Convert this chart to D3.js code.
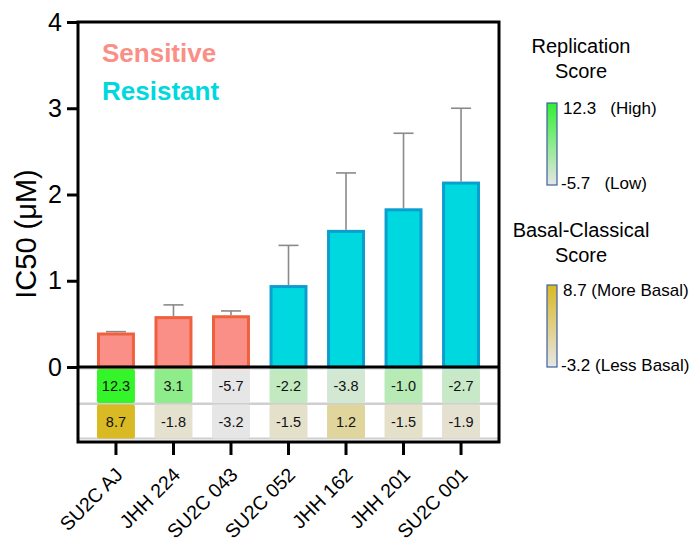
<!DOCTYPE html>
<html>
<head>
<meta charset="utf-8">
<script src="https://cdn.jsdelivr.net/npm/d3@7"></script>
<style>
  body { margin: 0; background: #fff; }
  svg { font-family: "Liberation Sans", Arial, sans-serif; }
</style>
</head>
<body>
<div id="chart"></div>
<script>
const lines = ['SU2C AJ', 'JHH 224', 'SU2C 043', 'SU2C 052', 'JHH 162', 'JHH 201', 'SU2C 001'];
const groupOf = ['Sensitive', 'Sensitive', 'Sensitive', 'Resistant', 'Resistant', 'Resistant', 'Resistant'];
const ic50 = [0.40, 0.59, 0.60, 0.95, 1.59, 1.84, 2.15];
const ic50Upper = [0.41, 0.72, 0.65, 1.41, 2.25, 2.71, 3.00];
const replicationScore = [12.3, 3.1, -5.7, -2.2, -3.8, -1.0, -2.7];
const basalScore = [8.7, -1.8, -3.2, -1.5, 1.2, -1.5, -1.9];
const yTicks = [0, 1, 2, 3, 4];

const W = 696, H = 542;
const plotLeft = 78, plotRight = 499, plotTop = 22, plotBottom = 442;

const svg = d3.select('#chart').append('svg')
  .attr('width', W).attr('height', H);

const x = d3.scaleBand().domain(lines).range([plotLeft, plotRight]).paddingInner(0.34).paddingOuter(0.33);
const y = d3.scaleLinear().domain([0, 4]).range([367, plotTop]);

const fillColor = { Sensitive: '#f98f86', Resistant: '#00d8df' };
const strokeColor = { Sensitive: '#f0603f', Resistant: '#0a9fcf' };

const repColor = d3.scaleLinear().domain([-5.7, 12.3]).range(['#e6e6e6', '#33f52a']);
const basColor = d3.scaleLinear().domain([-3.2, 8.7]).range(['#e6e6e6', '#d9b924']);

const rows = [
  { values: replicationScore, color: repColor },
  { values: basalScore, color: basColor }
];
const rowH = 35.5;
const rowTop = y(0) + 1.5;

// heatmap background separators
svg.append('rect')
  .attr('x', plotLeft + 1).attr('y', rowTop)
  .attr('width', plotRight - plotLeft - 2).attr('height', rowH * 2)
  .attr('fill', '#cfcfcf');
svg.append('rect')
  .attr('x', plotLeft + 1).attr('y', rowTop + 1)
  .attr('width', plotRight - plotLeft - 2).attr('height', rowH - 2.5)
  .attr('fill', '#fff');
svg.append('rect')
  .attr('x', plotLeft + 1).attr('y', rowTop + rowH + 1)
  .attr('width', plotRight - plotLeft - 2).attr('height', rowH - 3)
  .attr('fill', '#fff');

rows.forEach((row, r) => {
  const g = svg.append('g');
  g.selectAll('rect')
    .data(row.values)
    .enter()
    .append('rect')
    .attr('x', (d, i) => x(lines[i]))
    .attr('y', rowTop + r * rowH + 0.5)
    .attr('width', x.bandwidth())
    .attr('height', rowH - 1.5)
    .attr('rx', 2)
    .attr('fill', (d) => row.color(d));
  g.selectAll('text')
    .data(row.values)
    .enter()
    .append('text')
    .attr('x', (d, i) => x(lines[i]) + x.bandwidth() / 2)
    .attr('y', rowTop + r * rowH + rowH / 2)
    .attr('dy', '0.36em')
    .attr('text-anchor', 'middle')
    .style('font-size', '14.5px')
    .attr('fill', '#111')
    .text((d) => d.toFixed(1));
});

// error bars
const err = svg.append('g').attr('stroke', '#8a8a8a').attr('stroke-width', 1.6);
err.selectAll('line.v')
  .data(ic50)
  .enter()
  .append('line')
  .attr('x1', (d, i) => x(lines[i]) + x.bandwidth() / 2)
  .attr('x2', (d, i) => x(lines[i]) + x.bandwidth() / 2)
  .attr('y1', (d) => y(d))
  .attr('y2', (d, i) => y(ic50Upper[i]));
err.selectAll('line.c')
  .data(ic50Upper)
  .enter()
  .append('line')
  .attr('x1', (d, i) => x(lines[i]) + x.bandwidth() / 2 - 10)
  .attr('x2', (d, i) => x(lines[i]) + x.bandwidth() / 2 + 10)
  .attr('y1', (d) => y(d))
  .attr('y2', (d) => y(d));

// bars
svg.append('g')
  .selectAll('rect')
  .data(ic50)
  .enter()
  .append('rect')
  .attr('x', (d, i) => x(lines[i]) + 1.5)
  .attr('y', (d) => y(d) + 1.5)
  .attr('width', x.bandwidth() - 3)
  .attr('height', (d) => y(0) - y(d) - 1.5)
  .attr('fill', (d, i) => fillColor[groupOf[i]])
  .attr('stroke', (d, i) => strokeColor[groupOf[i]])
  .attr('stroke-width', 3);

// frame
const frame = svg.append('g').attr('stroke', '#000').attr('stroke-width', 3).attr('fill', 'none');
frame.append('rect')
  .attr('x', plotLeft).attr('y', plotTop)
  .attr('width', plotRight - plotLeft).attr('height', plotBottom - plotTop);
frame.append('line')
  .attr('x1', plotLeft).attr('x2', plotRight)
  .attr('y1', y(0)).attr('y2', y(0));

// y axis
const yAxis = svg.append('g')
  .attr('transform', `translate(${plotLeft},0)`)
  .call(d3.axisLeft(y).tickValues(yTicks).tickSize(11).tickPadding(5).tickFormat(d3.format('d')));
yAxis.select('.domain').remove();
yAxis.selectAll('line').attr('stroke', '#000').attr('stroke-width', 3);
yAxis.selectAll('text').style('font-size', '25px').attr('fill', '#000').attr('font-family', '"Liberation Sans", Arial, sans-serif');

// x axis
const xAxis = svg.append('g')
  .attr('transform', `translate(0,${plotBottom})`)
  .call(d3.axisBottom(x).tickSize(13).tickPadding(4));
xAxis.select('.domain').remove();
xAxis.selectAll('line').attr('stroke', '#000').attr('stroke-width', 3);
xAxis.selectAll('text')
  .style('font-size', '19.5px')
  .attr('fill', '#000')
  .attr('font-family', '"Liberation Sans", Arial, sans-serif')
  .style('text-anchor', 'end')
  .attr('x', 0).attr('y', 0).attr('dx', 0).attr('dy', 0)
  .attr('transform', 'translate(8,34) rotate(-45)');

// y title
svg.append('text')
  .attr('transform', `translate(36,${(plotTop + plotBottom) / 2 + 2}) rotate(-90)`)
  .attr('text-anchor', 'middle')
  .style('font-size', '29px')
  .text('IC50 (\u03bcM)');

// group legend
svg.append('text')
  .attr('x', 102).attr('y', 62)
  .style('font-size', '26px').style('font-weight', 'bold')
  .attr('fill', '#f98f86')
  .text('Sensitive');
svg.append('text')
  .attr('x', 102).attr('y', 100)
  .style('font-size', '26px').style('font-weight', 'bold')
  .attr('fill', '#00d8e0')
  .text('Resistant');

// colour legends
const defs = svg.append('defs');
function colorLegend(id, titleLines, titleY, barTop, topColor, bottomColor, topLabel, bottomLabel) {
  const grad = defs.append('linearGradient').attr('id', id)
    .attr('x1', 0).attr('x2', 0).attr('y1', 0).attr('y2', 1);
  grad.append('stop').attr('offset', '0%').attr('stop-color', topColor);
  grad.append('stop').attr('offset', '100%').attr('stop-color', bottomColor);

  titleLines.forEach((t, i) => {
    svg.append('text')
      .attr('x', 581).attr('y', titleY + i * 25)
      .attr('text-anchor', 'middle')
      .style('font-size', '20px')
      .text(t);
  });
  svg.append('rect')
    .attr('x', 547).attr('y', barTop)
    .attr('width', 10).attr('height', 82)
    .attr('fill', `url(#${id})`)
    .attr('stroke', '#3f5f9f').attr('stroke-width', 1.2);
  svg.append('text')
    .attr('x', 563).attr('y', barTop + 5).attr('dy', '0.35em')
    .style('font-size', '17px').attr('xml:space', 'preserve')
    .text(topLabel);
  svg.append('text')
    .attr('x', 561).attr('y', barTop + 80).attr('dy', '0.35em')
    .style('font-size', '17px').attr('xml:space', 'preserve')
    .text(bottomLabel);
}

colorLegend('repGrad', ['Replication', 'Score'], 53, 103, '#33ee33', '#e6e6e6', '12.3   (High)', '-5.7   (Low)');
colorLegend('basGrad', ['Basal-Classical', 'Score'], 237, 285, '#d9b924', '#e6e6e6', '8.7 (More Basal)', '-3.2 (Less Basal)');
</script>
</body>
</html>
